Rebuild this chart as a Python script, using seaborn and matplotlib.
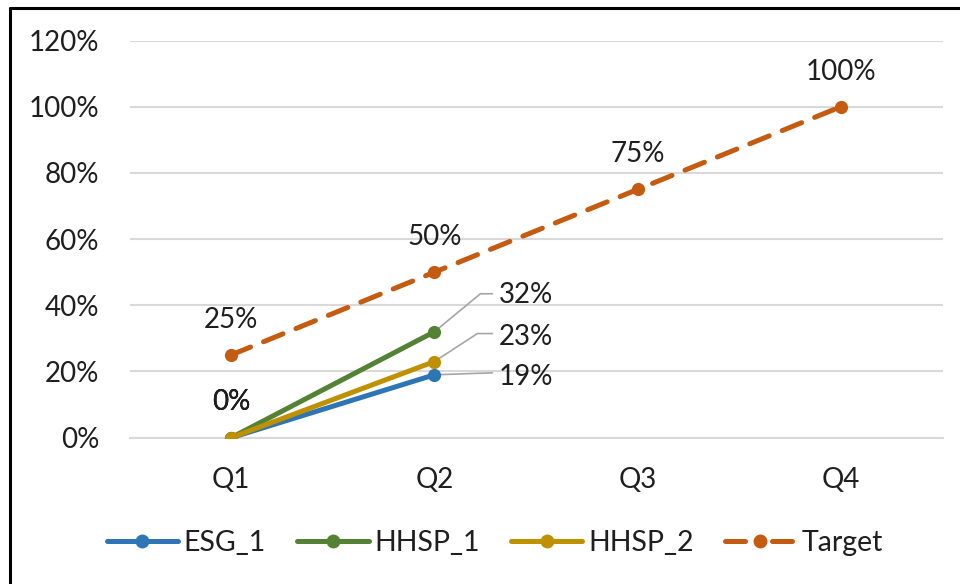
import numpy as np
import pandas as pd
import matplotlib
matplotlib.use("Agg")
import matplotlib.pyplot as plt
from matplotlib.lines import Line2D
import seaborn as sns

quarters = ["Q1", "Q2", "Q3", "Q4"]
esg_1 = [0, 19, np.nan, np.nan]
hhsp_1 = [0, 32, np.nan, np.nan]
hhsp_2 = [0, 23, np.nan, np.nan]
target = [25, 50, 75, 100]
y_ticks = [0, 20, 40, 60, 80, 100, 120]

sns.set_theme(style="white")
plt.rcParams['font.family'] = ['Lato', 'DejaVu Sans']

W, H = 960, 584
PX = 0.72  # points per pixel at dpi 100
fig = plt.figure(figsize=(W / 100, H / 100), dpi=100)
ax = fig.add_axes([129.5 / W, 1 - 437.7 / H, (942.5 - 129.5) / W, (437.7 - 40.5) / H])

xpos = np.arange(len(quarters))
names = ["ESG_1", "HHSP_1", "HHSP_2", "Target"]
colors = {"ESG_1": "#2E75B6", "HHSP_1": "#548235", "HHSP_2": "#BF9000", "Target": "#C55A11"}
series = {"ESG_1": esg_1, "HHSP_1": hhsp_1, "HHSP_2": hhsp_2, "Target": target}

lw = 3.6
ms = 9.5
fs = 20
tc = "#1F1F1F"
for name in names:
    df = pd.DataFrame({"x": xpos, "y": series[name]}).dropna()
    ls = (0, (4.2, 2.8)) if name == "Target" else "-"
    sns.lineplot(data=df, x="x", y="y", ax=ax, color=colors[name], linewidth=lw,
                 marker="o", markersize=ms, markeredgewidth=0, linestyle=ls,
                 zorder=3 if name != "Target" else 2, legend=False)
    ax.lines[-1].set_dash_capstyle("round")
    ax.lines[-1].set_solid_capstyle("round")

ax.set_xlim(-0.5, len(quarters) - 0.5)
ax.set_ylim(0, 120)
ax.set_yticks(y_ticks)
ax.set_yticklabels([f"{v}%" for v in y_ticks])
ax.set_xticks(xpos)
ax.set_xticklabels(quarters)
ax.set_xlabel("")
ax.set_ylabel("")
ax.grid(axis="y", color="#D9D9D9", linewidth=1.5)
ax.grid(axis="x", visible=False)
for s in ax.spines.values():
    s.set_visible(False)
ax.spines["bottom"].set_visible(True)
ax.spines["bottom"].set_color("#D9D9D9")
ax.spines["bottom"].set_linewidth(1.5)
ax.tick_params(axis="y", length=0, pad=30 * PX, labelsize=fs, labelcolor=tc)
ax.tick_params(axis="x", length=0, pad=21, labelsize=fs, labelcolor=tc)

txtkw = dict(fontsize=fs, color=tc, ha="center", va="center")
for i, v in enumerate(target):
    ax.annotate(f"{v}%", (xpos[i], v), xytext=(0, 35 * PX), textcoords="offset points", **txtkw)
for s in [esg_1, hhsp_1, hhsp_2]:
    ax.annotate(f"{s[0]:.0f}%", (xpos[0], s[0]), xytext=(0, 36 * PX), textcoords="offset points", **txtkw)

# Q2 labels with leader lines: (value, leader knee dx, dy, text dy) in pixels
lead = [(hhsp_1[1], 46, 38, 37), (hhsp_2[1], 43, 28, 25), (esg_1[1], 58, 2, -2)]
for v, dx, dy, tdy in lead:
    ax.annotate(f"{v:.0f}%", (xpos[1], v), xytext=(64 * PX, tdy * PX),
                textcoords="offset points", fontsize=fs, color=tc,
                ha="left", va="center")
    p0 = ax.transData.transform((xpos[1], v))
    p1 = (p0[0] + dx, p0[1] + dy)
    p2 = (p0[0] + 58, p0[1] + dy)
    pts = ax.transData.inverted().transform([p0, p1, p2])
    ax.plot(pts[:, 0], pts[:, 1], color="#A6A6A6", linewidth=1.2, zorder=1)

handles = []
for name in names:
    ls = (0, (4.0, 5.4)) if name == "Target" else "-"
    handles.append(Line2D([0], [0], color=colors[name], linewidth=lw, marker="o",
                          markersize=ms + 0.5, markeredgewidth=0, linestyle=ls,
                          solid_capstyle="round", dash_capstyle="round"))
fig.legend(handles, names, loc="center",
           bbox_to_anchor=(495 / W, 1 - 543 / H), ncol=4, frameon=False,
           fontsize=20.5, handlelength=2.5, columnspacing=1.1, handletextpad=0.2,
           labelcolor=tc)

fig.add_artist(Line2D([10 / W, 10 / W], [0, 1 - 8 / H], color="black", linewidth=2.2,
                      transform=fig.transFigure))
fig.add_artist(Line2D([10 / W, 1], [1 - 8 / H, 1 - 8 / H], color="black", linewidth=2.2,
                      transform=fig.transFigure))

fig.savefig("out.png", dpi=100, facecolor="white")
